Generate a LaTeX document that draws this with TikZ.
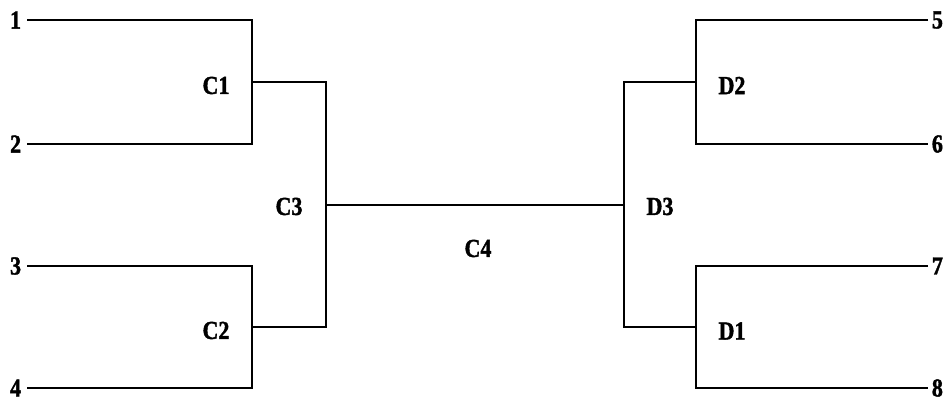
\documentclass[tikz,border=0pt]{standalone}
\usepackage{fontspec}
\newfontfamily\labfont[FakeStretch=0.85,FakeBold=1.5]{Liberation Serif}
\begin{document}
\begin{tikzpicture}[x=1bp,y=-1bp,line width=1.8bp,
  lab/.style={font=\labfont\bfseries\fontsize{26}{26}\selectfont,inner sep=0pt},
  leafL/.style={lab,anchor=east,inner xsep=5bp},
  leafR/.style={lab,anchor=west,inner xsep=3bp}]
\useasboundingbox (0,0) rectangle (950,406);
% leaves
\node[leafL] (n1) at (27,20) {1};
\node[leafL] (n2) at (27,144) {2};
\node[leafL] (n3) at (27,266) {3};
\node[leafL] (n4) at (27,388) {4};
\node[leafR] (n5) at (928,20) {5};
\node[leafR] (n6) at (928,144) {6};
\node[leafR] (n7) at (928,266) {7};
\node[leafR] (n8) at (928,388) {8};
% junction points
\coordinate (a1) at (252,20);
\coordinate (a2) at (252,266);
\coordinate (b1) at (696,20);
\coordinate (b2) at (696,266);
\coordinate (m1) at (252,82);
\coordinate (m2) at (252,327);
\coordinate (m3) at (326,82);
\coordinate (m4) at (326,205);
\coordinate (r1) at (696,82);
\coordinate (r2) at (696,327);
\coordinate (r3) at (624,82);
\coordinate (r4) at (624,205);
% brackets
\draw (n1.east) -- (a1) |- (n2.east);
\draw (n3.east) -- (a2) |- (n4.east);
\draw (n5.west) -- (b1) |- (n6.west);
\draw (n7.west) -- (b2) |- (n8.west);
\draw (m1) -- (m3) |- (m2);
\draw (r1) -- (r3) |- (r2);
\draw (m4) -- (r4);
% labels
\node[lab] (c1) at (216,85.5) {C1};
\node[lab] (c2) at (216,330.5) {C2};
\node[lab] (c3) at (289,206.5) {C3};
\node[lab] (c4) at (478,248.5) {C4};
\node[lab] (d2) at (732,85.5) {D2};
\node[lab] (d1) at (732,331) {D1};
\node[lab] (d3) at (660,206.5) {D3};
\end{tikzpicture}
\end{document}
